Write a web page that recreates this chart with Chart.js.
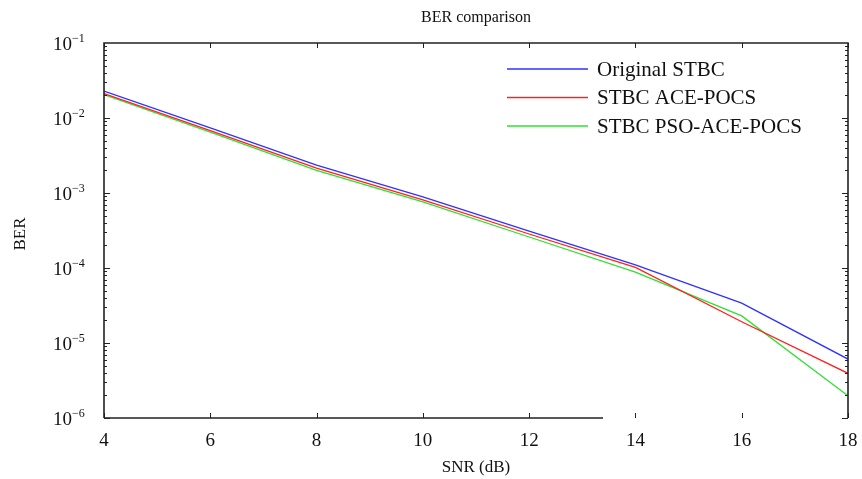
<!DOCTYPE html>
<html>
<head>
<meta charset="utf-8">
<script src="https://cdn.jsdelivr.net/npm/chart.js@4.4.0/dist/chart.umd.min.js"></script>
<style>
  html, body { margin: 0; padding: 0; background: #fff; }
  #wrap { width: 862px; height: 479px; }
</style>
</head>
<body>
<div id="wrap"><canvas id="berChart" width="862" height="479"></canvas></div>
<script>
// SNR points (dB)
const snr = [4, 6, 8, 10, 12, 14, 16, 18];
const seriesNames = ["Original STBC", "STBC ACE-POCS", "STBC PSO-ACE-POCS"];
const berOriginal = [2.29e-2, 7.4e-3, 2.36e-3, 8.9e-4, 3.1e-4, 1.1e-4, 3.4e-5, 6.1e-6];
const berAce      = [2.12e-2, 6.8e-3, 2.15e-3, 8.1e-4, 2.84e-4, 1.02e-4, 1.92e-5, 3.94e-6];
const berPso      = [2.05e-2, 6.5e-3, 2.0e-3, 7.6e-4, 2.59e-4, 8.8e-5, 2.3e-5, 1.98e-6];
const lineColors = ["#3030ff", "#ff2020", "#30e030"];
const yTicks = [1e-1, 1e-2, 1e-3, 1e-4, 1e-5, 1e-6];
const yTickExp = ["\u22121", "\u22122", "\u22123", "\u22124", "\u22125", "\u22126"];
const xTicks = [4, 6, 8, 10, 12, 14, 16, 18];

const serif = "'Liberation Serif', 'Times New Roman', serif";

// frame, inward ticks, custom labels, legend
const framePlugin = {
    id: "frame",
    afterDraw(chart) {
        const c = chart.ctx;
        const a = chart.chartArea;
        const xs = chart.scales.x;
        const ys = chart.scales.y;
        c.save();
        c.strokeStyle = "#222";
        c.lineWidth = 1.6;
        c.beginPath();
        c.moveTo(a.left, a.bottom); c.lineTo(a.left, a.top);
        c.lineTo(a.right, a.top); c.lineTo(a.right, a.bottom);
        c.moveTo(a.left, a.bottom); c.lineTo(603, a.bottom);
        c.stroke();

        c.lineWidth = 1;
        c.beginPath();
        xTicks.forEach(v => {
            const px = Math.round(xs.getPixelForValue(v)) + 0.5;
            c.moveTo(px, a.bottom); c.lineTo(px, a.bottom - 5);
            c.moveTo(px, a.top); c.lineTo(px, a.top + 5);
        });
        for (let e = -6; e < -1; e++) {
            for (let m = 1; m <= 9; m++) {
                const v = m * Math.pow(10, e);
                const py = Math.round(ys.getPixelForValue(v)) + 0.5;
                const len = m === 1 ? 6 : 3;
                c.moveTo(a.left, py); c.lineTo(a.left + len, py);
                c.moveTo(a.right, py); c.lineTo(a.right - len, py);
            }
        }
        c.stroke();

        // y tick labels: 10 with raised exponent
        c.fillStyle = "#111";
        c.textBaseline = "alphabetic";
        yTicks.forEach((v, i) => {
            const py = ys.getPixelForValue(v);
            c.font = "19px " + serif;
            c.textAlign = "right";
            c.fillText("10", 72, py + 7);
            c.font = "12px " + serif;
            c.textAlign = "left";
            c.fillText(yTickExp[i], 72, py - 1);
        });

        // title and y axis title
        c.font = "16px " + serif;
        c.textAlign = "center";
        c.textBaseline = "middle";
        c.fillText("BER comparison", (a.left + a.right) / 2, 18);
        c.save();
        c.translate(21, 234);
        c.rotate(-Math.PI / 2);
        c.font = "17px " + serif;
        c.fillText("BER", 0, 0);
        c.restore();

        // legend
        c.textAlign = "left";
        c.font = "21px " + serif;
        chart.data.datasets.forEach((ds, i) => {
            const ly = 69 + i * 28.5;
            c.strokeStyle = ds.borderColor;
            c.lineWidth = 1.3;
            c.beginPath();
            c.moveTo(507, ly); c.lineTo(588, ly);
            c.stroke();
            c.fillStyle = "#111";
            c.fillText(ds.label, 597, ly + 1);
        });
        c.restore();
    }
};

function makeSet(i, values) {
    return {
        label: seriesNames[i],
        data: snr.map((x, k) => ({ x: x, y: values[k] })),
        borderColor: lineColors[i],
        borderWidth: 1.3,
        pointRadius: 0,
        tension: 0,
        fill: false
    };
}

const ctx = document.getElementById("berChart").getContext("2d");
const berChart = new Chart(ctx, {
    type: "line",
    data: {
        datasets: [makeSet(0, berOriginal), makeSet(1, berAce), makeSet(2, berPso)]
    },
    options: {
        responsive: false,
        animation: false,
        layout: { padding: { top: 43, right: 14, left: 0, bottom: 0 } },
        plugins: { legend: { display: false }, title: { display: false }, tooltip: { enabled: false } },
        scales: {
            x: {
                type: "linear",
                min: 4, max: 18,
                grid: { display: false },
                border: { display: false },
                afterBuildTicks: s => { s.ticks = xTicks.map(v => ({ value: v })); },
                ticks: { color: "#111", padding: 4, font: { family: serif, size: 19 } },
                title: { display: true, text: "SNR (dB)", color: "#111", font: { family: serif, size: 17 }, padding: { bottom: 1 } },
                afterFit: s => { s.height = 61; }
            },
            y: {
                type: "logarithmic",
                min: 1e-6, max: 1e-1,
                grid: { display: false },
                border: { display: false },
                afterBuildTicks: s => { s.ticks = yTicks.map(v => ({ value: v })); },
                ticks: { display: false },
                afterFit: s => { s.width = 104; }
            }
        }
    },
    plugins: [framePlugin]
});
</script>
</body>
</html>
